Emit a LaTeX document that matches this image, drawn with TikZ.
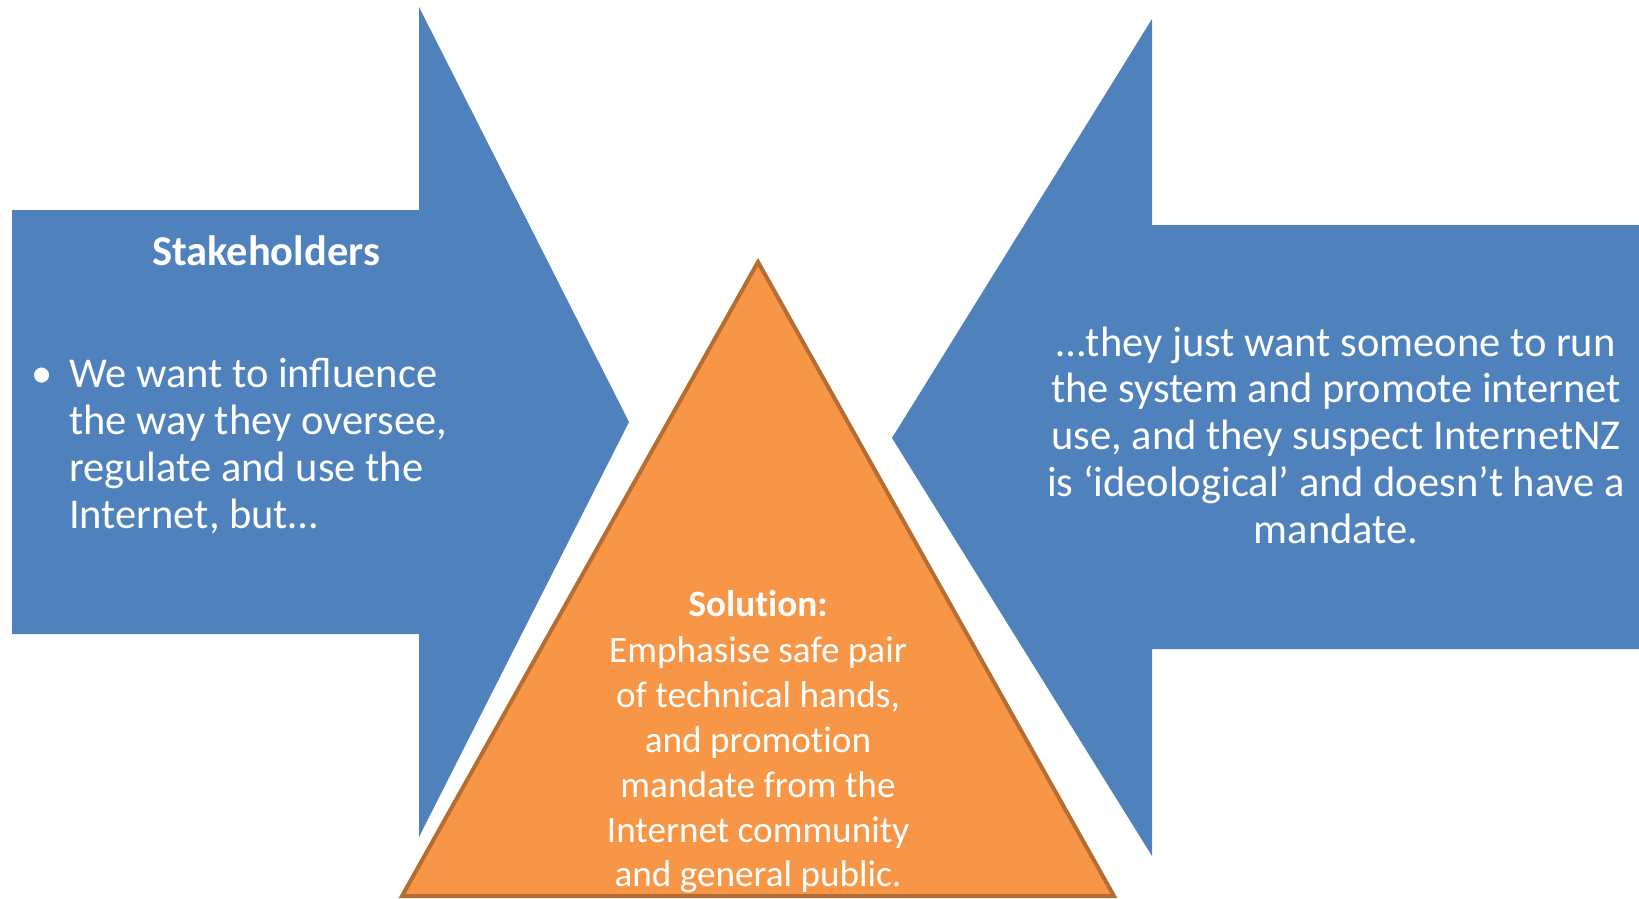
\documentclass[tikz,border=0pt]{standalone}
\usepackage{fontspec}
\setmainfont{Carlito}
\definecolor{arrowblue}{HTML}{4F81BD}
\definecolor{trifill}{HTML}{F79646}
\definecolor{tristroke}{HTML}{B66D31}
\tikzset{
  bluearrow/.style={fill=arrowblue, draw=none},
  solutiontri/.style={fill=trifill, draw=tristroke, line width=4pt, line join=miter},
  txt/.style={text=white, inner sep=0pt, anchor=base},
}
\begin{document}
\begin{tikzpicture}[x=1pt,y=-1pt]
\useasboundingbox (0,0) rectangle (1639,899);
% left arrow
\coordinate (l1) at (12,210);
\coordinate (l2) at (419,210);
\coordinate (l3) at (419,7);
\coordinate (ltip) at (629,422);
\coordinate (l5) at (419,837);
\coordinate (l6) at (419,634);
\coordinate (l7) at (12,634);
\fill[bluearrow] (l1) -- (l2) -- (l3) -- (ltip) -- (l5) -- (l6) -- (l7) -- cycle;
% right arrow
\coordinate (r1) at (1639,225);
\coordinate (r2) at (1152,225);
\coordinate (r3) at (1152,19);
\coordinate (rtip) at (892,438);
\coordinate (r5) at (1152,856);
\coordinate (r6) at (1152,649);
\coordinate (r7) at (1639,649);
\fill[bluearrow] (r1) -- (r2) -- (r3) -- (rtip) -- (r5) -- (r6) -- (r7) -- cycle;
% triangle
\coordinate (tapex) at (758,262);
\coordinate (tright) at (1114,896);
\coordinate (tleft) at (402,896);
\draw[solutiontri] (tapex) -- (tright) -- (tleft) -- cycle;
% texts
\node[txt] (stake) at (266,265) {\fontsize{42.5}{47}\selectfont\bfseries Stakeholders};
\node[txt] (bullet) at (42,387) {\fontsize{42.5}{47}\selectfont •};
\node[txt, anchor=base west] (want) at (69,387) {\parbox[t]{440pt}{\fontsize{42.5}{47}\selectfont\raggedright
We want to influence\\the way they oversee,\\regulate and use the\\Internet, but…}};
\node[txt] (they) at (1336,356) {\parbox[t]{660pt}{\fontsize{42.5}{46.75}\selectfont\centering
…they just want someone to run\\the system and promote internet\\use, and they suspect InternetNZ\\is ‘ideological’ and doesn’t have a\\mandate.}};
\node[txt] (solution) at (758,616) {\parbox[t]{440pt}{\fontsize{37.2}{44.8}\selectfont\centering
\textbf{Solut\kern0pt ion:}\\[2pt]Emphasise safe pair\\of technical hands,\\and promot\kern0pt ion\\mandate from the\\Internet community\\and general public.}};
\end{tikzpicture}
\end{document}
